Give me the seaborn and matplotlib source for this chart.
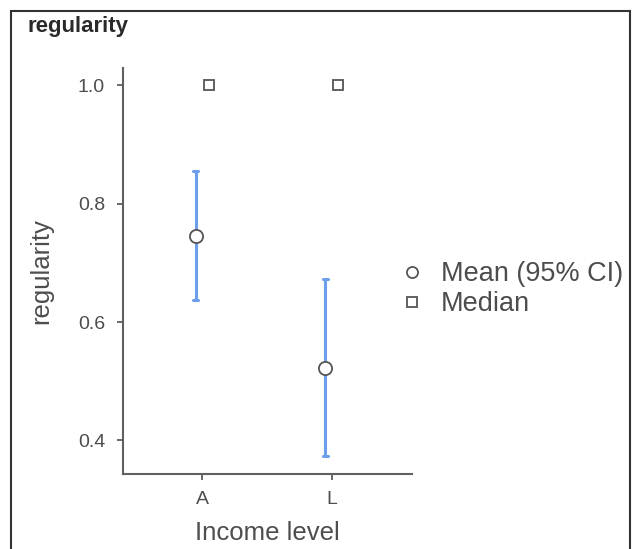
import matplotlib
matplotlib.use("Agg")
import matplotlib.pyplot as plt
from matplotlib.lines import Line2D
from matplotlib.patches import Rectangle
import seaborn as sns
import pandas as pd

# ---- data ----
income = ["A", "L"]
mean_vals = [0.745, 0.522]
ci_low = [0.637, 0.374]
ci_high = [0.855, 0.673]
median_vals = [1.0, 1.0]
y_ticks = [0.4, 0.6, 0.8, 1.0]

rows = []
for i, lev in enumerate(income):
    for v in (ci_low[i], mean_vals[i], ci_high[i]):
        rows.append({"income": lev, "stat": "Mean (95% CI)", "value": v})
    rows.append({"income": lev, "stat": "Median", "value": median_vals[i]})
df = pd.DataFrame(rows)

sns.set_theme(style="white")
plt.rcParams["font.family"] = ["Liberation Sans", "DejaVu Sans"]

fig = plt.figure(figsize=(6.38, 5.49), dpi=100)
ax = fig.add_axes([0.193, 0.1366, 0.453, 0.739])

blue = "#6d9eeb"
gray = "#555555"
sns.pointplot(
    data=df, x="income", y="value", hue="stat", order=income,
    hue_order=["Mean (95% CI)", "Median"],
    estimator="median", errorbar=lambda v: (v.min(), v.max()),
    dodge=0.1, markers=["o", "s"], linestyles="none",
    palette={"Mean (95% CI)": blue, "Median": gray},
    capsize=0.04, err_kws={"linewidth": 2.2}, legend=False, ax=ax,
)

for ln in ax.lines:
    m = ln.get_marker()
    if m in ("o", "s"):
        ln.set_markerfacecolor("white")
        ln.set_markeredgecolor(gray)
        ln.set_markeredgewidth(1.3)
        ln.set_markersize(9.5 if m == "o" else 7)
        ln.set_zorder(4)
    else:
        yd = ln.get_ydata()
        if len(yd) and (max(yd) - min(yd)) < 1e-9:
            ln.set_visible(False)
        ln.set_color(blue)
        ln.set_zorder(3)

ax.set_xlim(-0.61, 1.62)
ax.set_ylim(0.343, 1.029)
ax.set_yticks(y_ticks)
ax.set_yticklabels([f"{t:.1f}" for t in y_ticks])
ax.set_xlabel("Income level", fontsize=18.5, color="#4d4d4d", labelpad=9)
ax.set_ylabel("regularity", fontsize=18.5, color="#4d4d4d", labelpad=18)
ax.tick_params(axis="both", labelsize=14, labelcolor="#4d4d4d", color="#505050",
               length=4, width=1.2, direction="out", left=True, bottom=True)
ax.tick_params(axis="y", pad=9)
ax.tick_params(axis="x", pad=8.5)
for side in ("top", "right"):
    ax.spines[side].set_visible(False)
for side in ("left", "bottom"):
    ax.spines[side].set_color("#606060")
    ax.spines[side].set_linewidth(1.5)

handles = [
    Line2D([], [], marker="o", linestyle="none", markerfacecolor="white",
           markeredgecolor=gray, markeredgewidth=1.3, markersize=8),
    Line2D([], [], marker="s", linestyle="none", markerfacecolor="white",
           markeredgecolor=gray, markeredgewidth=1.3, markersize=6.5),
]
leg = ax.legend(handles, ["Mean (95% CI)", "Median"], loc="center left",
                bbox_to_anchor=(0.953, 0.455), frameon=False, fontsize=19.5,
                handlelength=1.0, handletextpad=0.55, labelspacing=0.15,
                borderpad=0, borderaxespad=0)
for t in leg.get_texts():
    t.set_color("#4d4d4d")

fig.text(0.043, 0.951, "regularity", fontsize=16, fontweight="bold",
         color="#2a2a2a", ha="left", va="center")

fig.patches.append(Rectangle((11 / 638, -0.05), (630 - 11) / 638, 0.05 + (549 - 11) / 549,
                             transform=fig.transFigure, fill=False,
                             edgecolor="#333333", linewidth=1.5))

fig.savefig("out.png", dpi=100)
